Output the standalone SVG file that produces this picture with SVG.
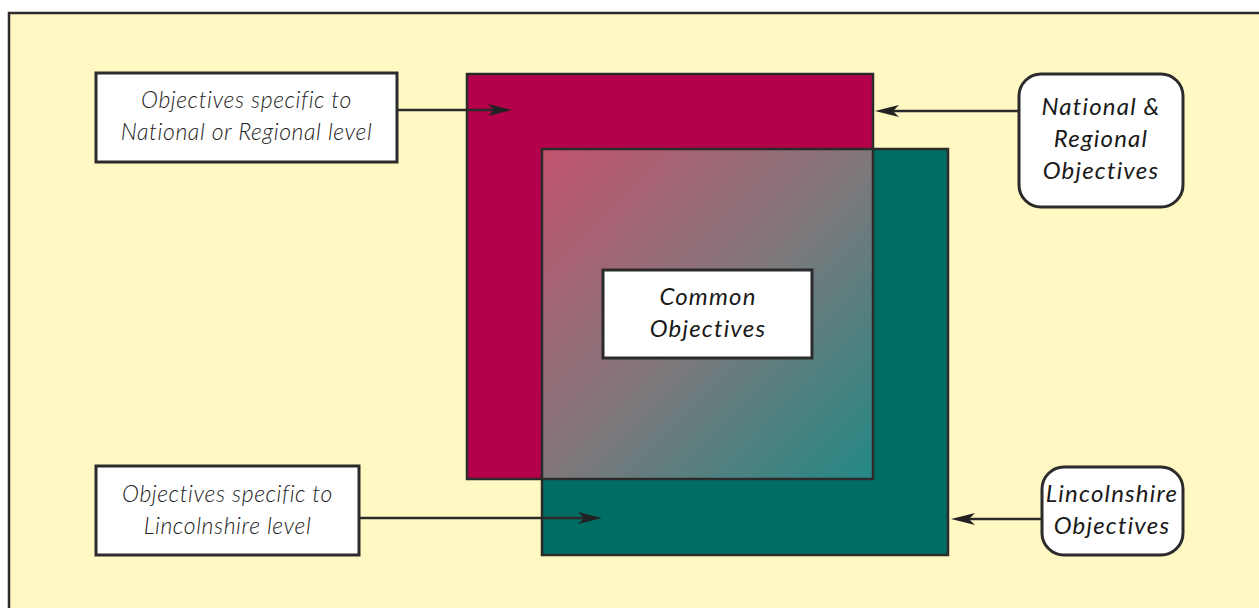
<svg xmlns="http://www.w3.org/2000/svg" width="1259" height="608" viewBox="0 0 1259 608">
<style>
.frame{fill:#fff8c2;stroke:#2b2b2b;stroke-width:2.5}
.box{fill:#ffffff;stroke:#2b2b2b;stroke-width:3}
.outline{fill:none;stroke:#2b2b2b;stroke-width:2.5}
.lt{font-family:Lato,"Liberation Sans",sans-serif;font-style:italic;font-weight:300;font-size:23px;letter-spacing:0.6px;fill:#222;text-anchor:middle}
.md{font-family:Lato,"Liberation Sans",sans-serif;font-style:italic;font-weight:400;font-size:24px;letter-spacing:1.2px;fill:#1a1a1a;text-anchor:middle}
.conn line{stroke:#2b2b2b;stroke-width:2.5;marker-end:url(#ah)}
</style>
<defs>
<marker id="ah" viewBox="0 0 24 12" refX="16" refY="6" markerWidth="24" markerHeight="12" markerUnits="userSpaceOnUse" orient="auto">
<path d="M0,0 L24,6 L0,12 L6,6 Z" fill="#222"/>
</marker>
<linearGradient id="mix" gradientUnits="userSpaceOnUse" x1="542" y1="149" x2="873" y2="479">
<stop offset="0" stop-color="#c4546e"/>
<stop offset="0.5" stop-color="#82787c"/>
<stop offset="1" stop-color="#238a86"/>
</linearGradient>
<pattern id="hatch" patternUnits="userSpaceOnUse" width="4" height="4" patternTransform="rotate(45)">
<line x1="0" y1="0" x2="0" y2="4" stroke="#000" stroke-opacity="0.06" stroke-width="1"/>
</pattern>
</defs>
<rect class="frame" x="9" y="13" width="1262" height="600"/>
<g id="regional-square">
<rect x="467" y="74" width="406" height="405" fill="#b5004b"/>
</g>
<g id="lincolnshire-square">
<rect x="542" y="149" width="406" height="406" fill="#006d63"/>
</g>
<g id="overlap">
<rect x="542" y="149" width="331" height="330" fill="url(#mix)"/>
<rect x="542" y="149" width="331" height="330" fill="url(#hatch)"/>
<rect class="outline" x="467" y="74" width="406" height="405"/>
<rect class="outline" x="542" y="149" width="406" height="406"/>
</g>
<g id="common">
<rect class="box" x="603" y="270" width="209" height="88"/>
<text class="md" x="708" y="305">Common</text>
<text class="md" x="708" y="337">Objectives</text>
</g>
<g id="specific-national">
<rect class="box" x="96" y="73" width="301" height="89"/>
<text class="lt" x="246.5" y="108">Objectives specific to</text>
<text class="lt" x="246.5" y="140">National or Regional level</text>
</g>
<g id="specific-lincolnshire">
<rect class="box" x="96" y="466" width="263" height="89"/>
<text class="lt" x="227.5" y="502">Objectives specific to</text>
<text class="lt" x="227.5" y="534">Lincolnshire level</text>
</g>
<g id="national-objectives">
<rect class="box" x="1019" y="74" width="164" height="133" rx="22"/>
<text class="md" x="1101" y="115">National &amp;</text>
<text class="md" x="1101" y="147">Regional</text>
<text class="md" x="1101" y="179">Objectives</text>
</g>
<g id="lincolnshire-objectives">
<rect class="box" x="1042" y="467" width="141" height="88" rx="22"/>
<text class="md" x="1112" y="502">Lincolnshire</text>
<text class="md" x="1112" y="534">Objectives</text>
</g>
<g id="connectors" class="conn">
<line x1="397" y1="110" x2="504" y2="110"/>
<line x1="1019" y1="111" x2="883" y2="111"/>
<line x1="359" y1="518" x2="594" y2="518"/>
<line x1="1042" y1="519" x2="959" y2="519"/>
</g>
</svg>
